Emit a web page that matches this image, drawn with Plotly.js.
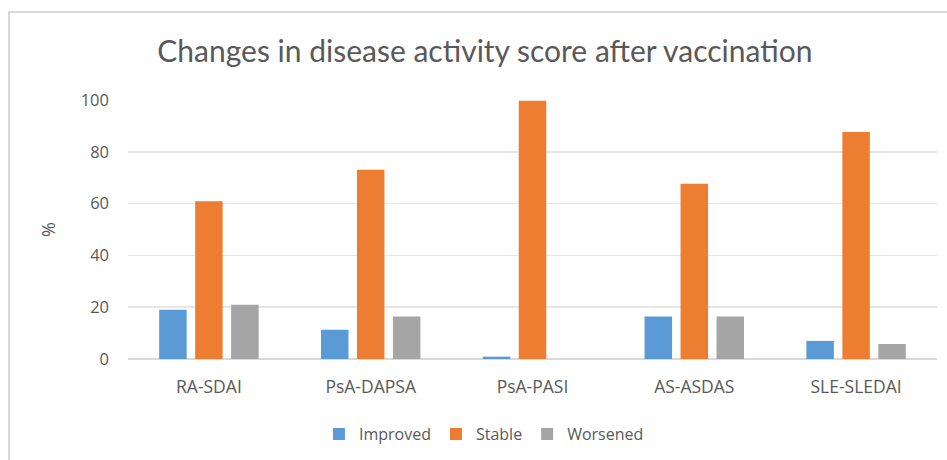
<!DOCTYPE html>
<html>
<head>
<meta charset="utf-8">
<script src="https://cdn.plot.ly/plotly-3.0.1.min.js"></script>
<style>
html,body{margin:0;padding:0;background:#fff;}
#chart{width:947px;height:460px;}
#frame{position:absolute;left:8px;top:11px;width:960px;height:470px;border-left:2px solid #d9d9d9;border-top:2px solid #d9d9d9;pointer-events:none;}
</style>
</head>
<body>
<div id="chart"></div>
<div id="frame"></div>
<script>
const categories = ["RA-SDAI", "PsA-DAPSA", "PsA-PASI", "AS-ASDAS", "SLE-SLEDAI"];
const improved = [19, 11.3, 0.9, 16.4, 7.0];
const stable = [60.9, 73.1, 99.7, 67.7, 87.6];
const worsened = [20.9, 16.4, 0, 16.4, 5.8];
const yTicks = [0, 20, 40, 60, 80, 100];

const titleFont = "Lato, 'Open Sans', sans-serif";
const font = "'Open Sans', Lato, sans-serif";
const traces = [
  {type: "bar", name: "Improved", x: categories, y: improved, marker: {color: "#5b9bd5"}},
  {type: "bar", name: "Stable", x: categories, y: stable, marker: {color: "#ed7d31"}},
  {type: "bar", name: "Worsened", x: categories, y: worsened, marker: {color: "#a5a5a5"}}
];
const layout = {
  width: 947, height: 460,
  margin: {l: 128, r: 10, t: 100, b: 100},
  paper_bgcolor: "#fff", plot_bgcolor: "#fff",
  barmode: "group", bargap: 0.333, bargroupgap: 0.236,
  title: {text: "Changes in disease activity score after vaccination", x: 0.512, xanchor: "center", y: 0.888, yanchor: "middle",
          font: {family: titleFont, size: 30, color: "#595959"}},
  xaxis: {tickfont: {family: font, size: 17.5, color: "#595959"}, showgrid: false, showline: false, ticks: "", zeroline: false,
          ticklabelstandoff: 15, fixedrange: true},
  yaxis: {range: [0, 100], tickvals: yTicks, ticktext: yTicks.map(String), tickfont: {family: font, size: 16.5, color: "#595959"},
          gridcolor: "#e6e6e6", gridwidth: 1.5, zeroline: true, zerolinecolor: "#d9d9d9", zerolinewidth: 2, showline: false, ticklen: 0, ticks: "",
          ticklabelstandoff: 18,
          title: {text: "%", font: {family: font, size: 18, color: "#595959"}, standoff: 20}, fixedrange: true},
  legend: {orientation: "h", x: 0.44, xanchor: "center", y: -0.285, yanchor: "middle",
           font: {family: font, size: 16, color: "#595959"}, itemwidth: 30},
  showlegend: true
};
Plotly.newPlot("chart", traces, layout, {displayModeBar: false, staticPlot: true});
</script>
</body>
</html>
